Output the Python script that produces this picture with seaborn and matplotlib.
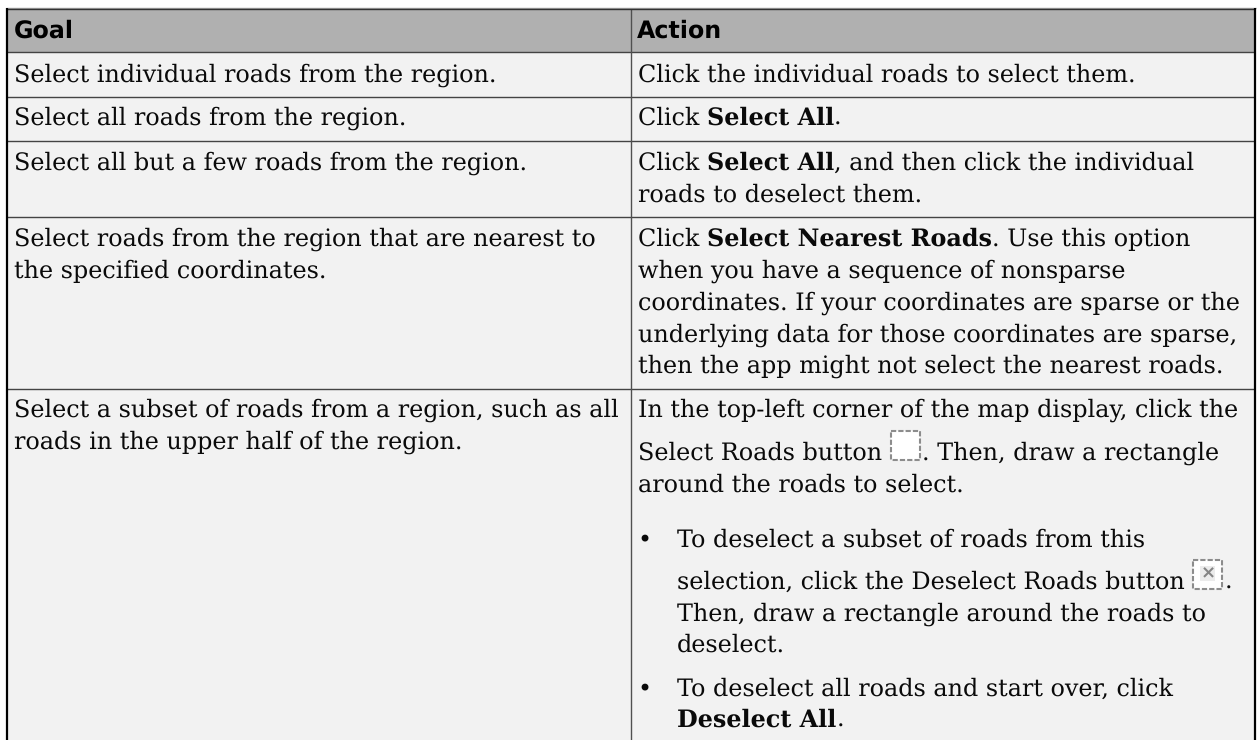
import matplotlib
matplotlib.use('Agg')
import matplotlib.pyplot as plt
from matplotlib.patches import Rectangle
import seaborn as sns

# table text, ** marks bold runs
headers = ['Goal', 'Action']

goal_lines = [
    ['Select individual roads from the region.'],
    ['Select all roads from the region.'],
    ['Select all but a few roads from the region.'],
    ['Select roads from the region that are nearest to', 'the specified coordinates.'],
    ['Select a subset of roads from a region, such as all', 'roads in the upper half of the region.'],
]

action_lines = [
    ['Click the individual roads to select them.'],
    ['Click **Select All**.'],
    ['Click **Select All**, and then click the individual', 'roads to deselect them.'],
    ['Click **Select Nearest Roads**. Use this option', 'when you have a sequence of nonsparse',
     'coordinates. If your coordinates are sparse or the', 'underlying data for those coordinates are sparse,',
     'then the app might not select the nearest roads.'],
    ['In the top-left corner of the map display, click the', 'Select Roads button @@. Then, draw a rectangle',
     'around the roads to select.'],
]

bullet_lines = [
    ['To deselect a subset of roads from this', 'selection, click the Deselect Roads button @x@.',
     'Then, draw a rectangle around the roads to', 'deselect.'],
    ['To deselect all roads and start over, click', '**Deselect All**.'],
]

# layout in pixels
W, H = 1257, 740
row_lines = [52, 97, 141, 217, 389]
goal_base = [[82], [125], [170], [246, 278], [417, 449]]
action_base = [[82], [125], [170, 202], [246, 278, 310, 342, 373], [417, 460, 492]]
bullet_base = [[547, 589, 621, 652], [696, 727]]
col_x = 631
pt = 23.9 * 0.72
head_pt = 23.8 * 0.72
text_color = '#0a0a0a'

sns.set_theme(style='white', rc={'font.family': 'DejaVu Serif', 'text.hinting': 'no_hinting'})

fig = plt.figure(figsize=(W / 100, H / 100), dpi=100, facecolor='white')
ax = fig.add_axes([0, 0, 1, 1])
ax.set_xlim(0, W)
ax.set_ylim(H, 0)
ax.axis('off')
renderer = fig.canvas.get_renderer()


def advance(s, weight):
    # width with trailing spaces kept
    a = ax.text(0, 0, s + '.', fontsize=pt, fontweight=weight, family='DejaVu Serif')
    b = ax.text(0, 0, '.', fontsize=pt, fontweight=weight, family='DejaVu Serif')
    w = a.get_window_extent(renderer).width - b.get_window_extent(renderer).width
    a.remove()
    b.remove()
    return w


def icon(x, base, cross=False):
    top = base - 30
    ax.add_patch(Rectangle((x + 1, top + 1), 29, 29, fc='white', ec='#8c8c8c', lw=1.5,
                           ls=(0, (2.5, 1.0)), zorder=3))
    if cross:
        ax.add_patch(Rectangle((x + 8, top + 7), 15, 15, fc='#ececec', ec='none', zorder=3))
        ax.text(x + 15.5, top + 14.5, '×', fontsize=13, fontweight='bold', color='#858585',
                ha='center', va='center', family='DejaVu Sans', zorder=4)


def draw_line(x, base, line):
    parts = line.split('**')
    for i, part in enumerate(parts):
        weight = 'bold' if i % 2 else 'normal'
        pieces = part.split('@')
        for j, piece in enumerate(pieces):
            if j % 2:
                icon(x, base, cross=piece == 'x')
                x += 32
                continue
            if piece:
                ax.text(x, base, piece, fontsize=pt, fontweight=weight, color=text_color,
                        va='baseline', ha='left', family='DejaVu Serif')
                x += advance(piece, weight)


# backgrounds
ax.add_patch(Rectangle((7, 9), W - 10, row_lines[0] - 9, fc='#b0b0b0', ec='none'))
ax.add_patch(Rectangle((7, row_lines[0]), W - 10, H - row_lines[0], fc='#f2f2f2', ec='none'))

# grid
ax.hlines(row_lines, 7, W - 3, color='#444444', lw=1.0)
ax.vlines(col_x, 9, H, color='#505050', lw=1.0)
ax.hlines(7.5, 6, W - 1, color='#a0a0a0', lw=1.0)
ax.hlines(9, 7, W - 2, color='#333333', lw=1.0)
ax.vlines(7, 8, H, color='black', lw=1.6)
ax.vlines(W - 2, 8, H, color='black', lw=1.6)

# header
ax.text(14, 38, headers[0], fontsize=head_pt, fontweight='bold', family='DejaVu Sans', color='black', va='baseline')
ax.text(col_x + 6, 38, headers[1], fontsize=head_pt, fontweight='bold', family='DejaVu Sans', color='black', va='baseline')

# body
for lines, bases in zip(goal_lines, goal_base):
    for line, b in zip(lines, bases):
        draw_line(14, b, line)
for lines, bases in zip(action_lines, action_base):
    for line, b in zip(lines, bases):
        draw_line(col_x + 7, b, line)
for lines, bases in zip(bullet_lines, bullet_base):
    ax.text(644, bases[0] - 1, '•', fontsize=pt, color=text_color, ha='center', va='baseline', family='DejaVu Sans')
    for line, b in zip(lines, bases):
        draw_line(677, b, line)

fig.savefig('out.png', dpi=100, facecolor='white')
